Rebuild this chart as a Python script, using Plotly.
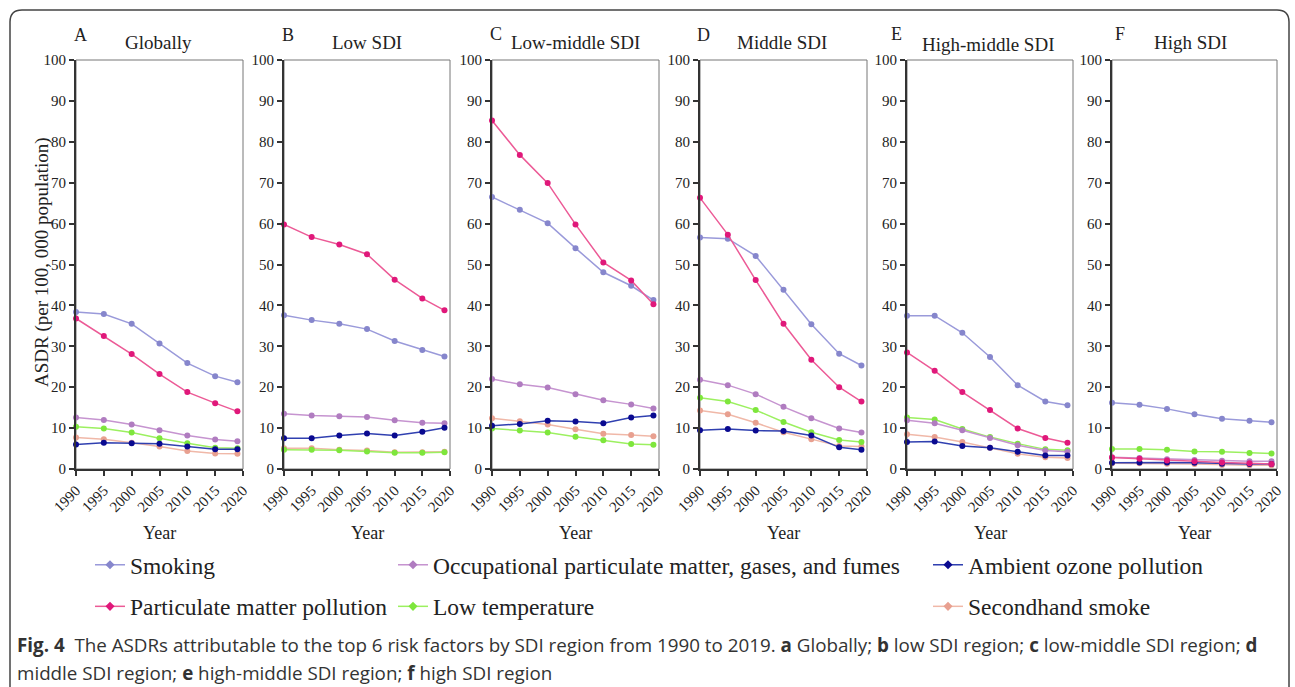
import plotly.graph_objects as go

W, H = 1295, 687

years = [1990, 1995, 2000, 2005, 2010, 2015, 2019]

panel_letters = ["A", "B", "C", "D", "E", "F"]
panel_titles = ["Globally", "Low SDI", "Low-middle SDI", "Middle SDI", "High-middle SDI", "High SDI"]

# values per panel (A..F)
smoking = [
    [38.4, 37.9, 35.5, 30.7, 25.9, 22.7, 21.2],
    [37.6, 36.4, 35.5, 34.2, 31.3, 29.1, 27.5],
    [66.5, 63.4, 60.1, 54.0, 48.1, 44.8, 41.3],
    [56.6, 56.3, 52.1, 43.8, 35.4, 28.2, 25.3],
    [37.5, 37.5, 33.3, 27.4, 20.5, 16.5, 15.6],
    [16.2, 15.7, 14.7, 13.4, 12.3, 11.8, 11.4],
]
occupational = [
    [12.6, 12.0, 10.9, 9.5, 8.2, 7.2, 6.8],
    [13.5, 13.1, 12.9, 12.7, 11.9, 11.3, 11.2],
    [22.0, 20.7, 19.9, 18.3, 16.8, 15.8, 14.8],
    [21.8, 20.5, 18.3, 15.2, 12.4, 9.9, 8.9],
    [11.9, 11.2, 9.5, 7.6, 5.8, 4.5, 4.2],
    [2.9, 2.7, 2.4, 2.2, 2.0, 1.9, 1.9],
]
ozone = [
    [6.0, 6.4, 6.3, 6.2, 5.5, 4.8, 4.8],
    [7.5, 7.5, 8.2, 8.7, 8.2, 9.1, 10.1],
    [10.6, 11.0, 11.8, 11.6, 11.2, 12.6, 13.1],
    [9.5, 9.8, 9.4, 9.3, 8.2, 5.3, 4.7],
    [6.6, 6.7, 5.6, 5.2, 4.2, 3.3, 3.3],
    [1.5, 1.6, 1.6, 1.5, 1.3, 1.2, 1.2],
]
particulate = [
    [36.8, 32.5, 28.1, 23.2, 18.8, 16.1, 14.1],
    [59.8, 56.7, 54.9, 52.5, 46.3, 41.7, 38.8],
    [85.2, 76.8, 69.9, 59.8, 50.5, 46.1, 40.3],
    [66.3, 57.3, 46.2, 35.5, 26.7, 20.0, 16.5],
    [28.5, 24.0, 18.8, 14.4, 9.9, 7.6, 6.4],
    [2.8, 2.5, 2.1, 1.9, 1.6, 1.4, 1.2],
]
low_temp = [
    [10.3, 9.9, 8.9, 7.5, 6.3, 5.2, 5.1],
    [4.7, 4.7, 4.6, 4.3, 4.0, 4.0, 4.1],
    [9.9, 9.4, 8.9, 7.9, 7.0, 6.1, 5.9],
    [17.4, 16.5, 14.4, 11.5, 9.0, 7.1, 6.6],
    [12.6, 12.1, 9.8, 7.8, 6.2, 4.8, 4.6],
    [4.9, 4.9, 4.7, 4.3, 4.2, 3.9, 3.8],
]
secondhand = [
    [7.7, 7.3, 6.4, 5.5, 4.4, 3.8, 3.7],
    [5.1, 5.1, 4.7, 4.5, 4.1, 4.1, 4.2],
    [12.4, 11.7, 10.9, 9.7, 8.6, 8.3, 8.0],
    [14.3, 13.4, 11.3, 9.0, 7.3, 5.6, 5.5],
    [8.5, 7.8, 6.6, 5.2, 3.7, 2.9, 2.7],
    [1.4, 1.4, 1.3, 1.2, 1.0, 0.9, 0.9],
]

x_ticks = [1990, 1995, 2000, 2005, 2010, 2015, 2020]
y_ticks = [0, 10, 20, 30, 40, 50, 60, 70, 80, 90, 100]

series = [
    ("Smoking", smoking, "#9a9ada", "#8686cc", "legend"),
    ("Occupational particulate matter, gases, and fumes", occupational, "#c694d0", "#b07cc0", "legend2"),
    ("Ambient ozone pollution", ozone, "#3040b0", "#0a0a90", "legend3"),
    ("Particulate matter pollution", particulate, "#ec5a96", "#e0187a", "legend"),
    ("Low temperature", low_temp, "#9cf060", "#7ee63c", "legend2"),
    ("Secondhand smoke", secondhand, "#f0b8a8", "#e8a090", "legend3"),
]
draw_order = [5, 4, 1, 2, 0, 3]

px_left = [76, 284, 492, 700, 907, 1112]
px_right = [243, 450, 659, 867, 1073, 1277]
py_top, py_bot = 60, 469

def fx(p):
    return p / W

def fy(p):
    return 1 - p / H

SERIF = "Liberation Serif, Times New Roman, serif"

fig = go.Figure()

for i in range(6):
    xa = "x" if i == 0 else f"x{i+1}"
    ya = "y" if i == 0 else f"y{i+1}"
    for k in draw_order:
        name, data, lc, mc, lg = series[k]
        fig.add_trace(go.Scatter(
            x=years, y=data[i], mode="lines+markers", name=name,
            line=dict(color=lc, width=1.5),
            marker=dict(color=mc, size=6, symbol="circle"),
            xaxis=xa, yaxis=ya, cliponaxis=False,
            showlegend=False,
        ))

legend_order = [0, 3, 1, 4, 2, 5]
for k in legend_order:
    name, data, lc, mc, lg = series[k]
    fig.add_trace(go.Scatter(
        x=[None], y=[None], mode="lines+markers", name=name,
        line=dict(color=lc, width=1.5),
        marker=dict(color=mc, size=7, symbol="diamond"),
        legend=lg, legendgroup=name, showlegend=True,
    ))

layout = dict(
    width=W, height=H,
    margin=dict(l=0, r=0, t=0, b=0, autoexpand=False),
    paper_bgcolor="white", plot_bgcolor="white",
    showlegend=True,
    font=dict(family=SERIF, color="#222"),
)

for i in range(6):
    xk = "xaxis" if i == 0 else f"xaxis{i+1}"
    yk = "yaxis" if i == 0 else f"yaxis{i+1}"
    xa = "x" if i == 0 else f"x{i+1}"
    layout[xk] = dict(
        domain=[fx(px_left[i]), fx(px_right[i])], anchor=("y" if i == 0 else f"y{i+1}"),
        range=[1990, 2020], tickvals=x_ticks, ticktext=[str(t) for t in x_ticks],
        tickangle=-45, ticks="outside", ticklen=5, tickwidth=1.5, tickcolor="#333",
        showline=True, linecolor="#333", linewidth=2, showgrid=False, zeroline=False,
        tickfont=dict(family=SERIF, size=15, color="#222"),
    )
    layout[yk] = dict(
        domain=[fy(py_bot), fy(py_top)], anchor=xa,
        range=[0, 100], tickvals=y_ticks, ticks="outside", ticklen=5, tickwidth=1.5,
        tickcolor="#333", showline=True, linecolor="#333", linewidth=2,
        showgrid=False, zeroline=False,
        tickfont=dict(family=SERIF, size=15, color="#222"),
    )

leg_common = dict(orientation="v", xanchor="left", yanchor="top",
                  font=dict(family=SERIF, size=23.5, color="#222"),
                  bgcolor="rgba(0,0,0,0)", tracegroupgap=8, itemwidth=30)
layout["legend"] = dict(x=fx(90), y=fy(543), **leg_common)
layout["legend2"] = dict(x=fx(393), y=fy(543), **leg_common)
layout["legend3"] = dict(x=fx(928), y=fy(543), **leg_common)

annotations = []
letter_pos = [(80, 35), (288, 35), (496, 34), (703, 35), (896, 34), (1120, 34)]
title_pos = [(158, 43), (367, 43), (575, 43), (782, 43), (988, 44), (1190, 43)]
for i in range(6):
    annotations.append(dict(text=panel_letters[i], x=fx(letter_pos[i][0]), y=fy(letter_pos[i][1]),
                            xref="paper", yref="paper", xanchor="center", yanchor="middle",
                            showarrow=False, font=dict(family=SERIF, size=18, color="#222")))
    annotations.append(dict(text=panel_titles[i], x=fx(title_pos[i][0]), y=fy(title_pos[i][1]),
                            xref="paper", yref="paper", xanchor="center", yanchor="middle",
                            showarrow=False, font=dict(family=SERIF, size=19, color="#222")))
    annotations.append(dict(text="Year", x=fx((px_left[i] + px_right[i]) / 2), y=fy(533),
                            xref="paper", yref="paper", xanchor="center", yanchor="middle",
                            showarrow=False, font=dict(family=SERIF, size=18, color="#222")))

annotations.append(dict(text="ASDR (per 100, 000 population)", x=fx(42), y=fy(262),
                        xref="paper", yref="paper", xanchor="center", yanchor="middle",
                        showarrow=False, textangle=-90,
                        font=dict(family=SERIF, size=19, color="#222")))

CAP = "Open Sans, Roboto, sans-serif"
annotations.append(dict(
    text="<b>Fig. 4</b>  The ASDRs attributable to the top 6 risk factors by SDI region from 1990 to 2019. "
         "<b>a</b> Globally; <b>b</b> low SDI region; <b>c</b> low-middle SDI region; <b>d</b>",
    x=fx(15), y=fy(645), xref="paper", yref="paper", xanchor="left", yanchor="middle", showarrow=False,
    font=dict(family=CAP, size=18.8, color="#333")))
annotations.append(dict(
    text="middle SDI region; <b>e</b> high-middle SDI region; <b>f</b> high SDI region",
    x=fx(15), y=fy(673), xref="paper", yref="paper", xanchor="left", yanchor="middle", showarrow=False,
    font=dict(family=CAP, size=18.8, color="#333")))
layout["annotations"] = annotations

shapes = []
for i in range(6):
    shapes.append(dict(type="rect", xref="paper", yref="paper",
                       x0=fx(px_left[i]), x1=fx(px_right[i]), y0=fy(py_bot), y1=fy(py_top),
                       line=dict(color="#777", width=1), layer="below"))
bl, bt, br, r = 10, 10, 1289, 12
path = (f"M {fx(bl)},{fy(H + 5)} L {fx(bl)},{fy(bt + r)} Q {fx(bl)},{fy(bt)} {fx(bl + r)},{fy(bt)} "
        f"L {fx(br - r)},{fy(bt)} Q {fx(br)},{fy(bt)} {fx(br)},{fy(bt + r)} L {fx(br)},{fy(H + 5)}")
shapes.append(dict(type="path", path=path, xref="paper", yref="paper",
                   line=dict(color="#444", width=1.5)))
layout["shapes"] = shapes

fig.update_layout(**layout)
fig.write_html("out.html")
